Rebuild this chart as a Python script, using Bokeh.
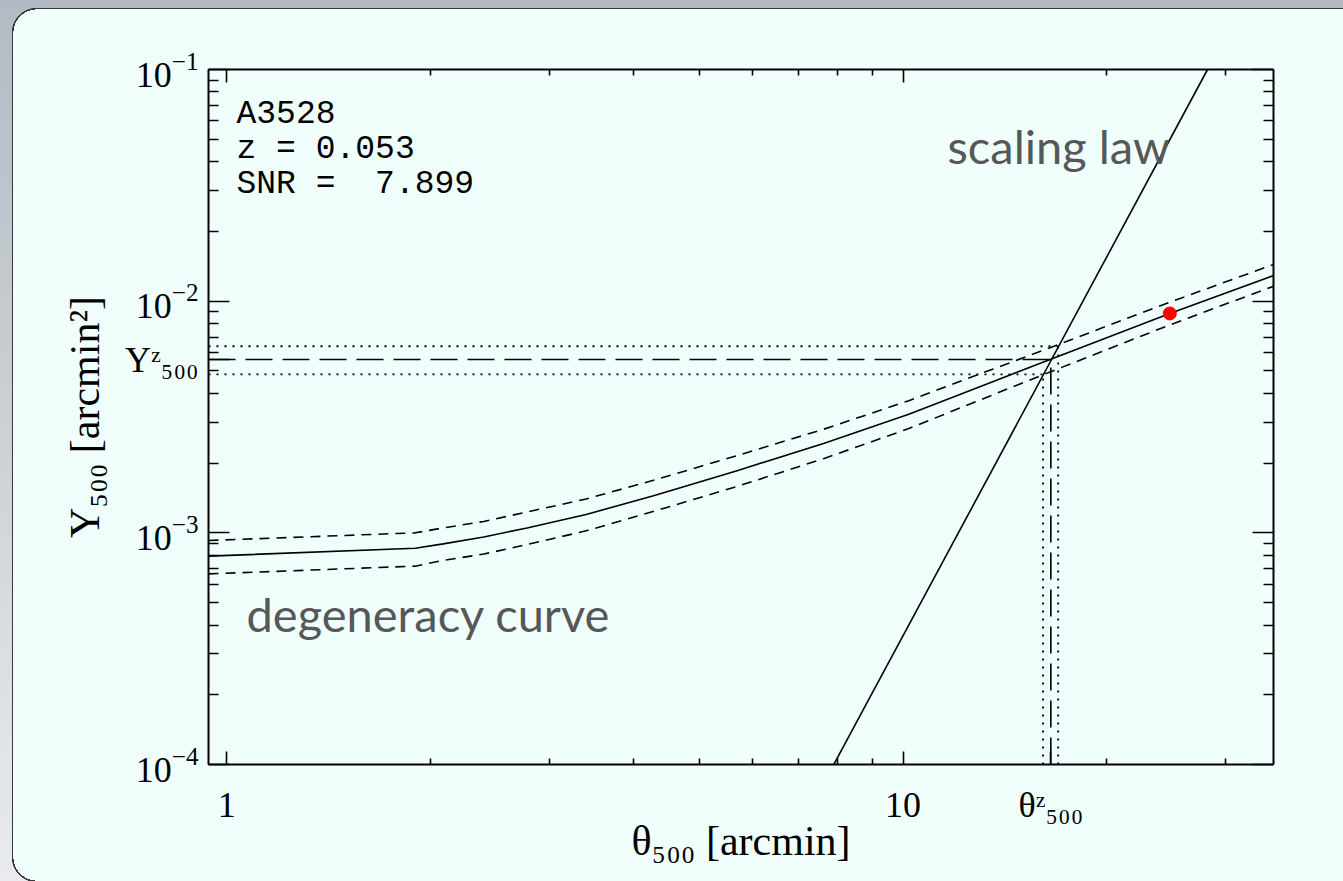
import math
from bokeh.plotting import figure
from bokeh.models import (LogAxis, FixedTicker, BasicTickFormatter, LogTickFormatter,
                          Label, Range1d)
from bokeh.embed import file_html
from bokeh.resources import INLINE

W, H = 1343, 881

# ---------------- data ----------------
theta500 = [0.94, 1.9, 2.09, 2.4, 2.78, 3.4, 4.29, 5.7, 7.63, 10.2, 13.6, 16.5, 24.8, 35.3]
Y_degeneracy = [7.93e-4, 8.58e-4, 8.96e-4, 9.60e-4, 1.05e-3, 1.20e-3, 1.45e-3, 1.86e-3,
                2.43e-3, 3.25e-3, 4.50e-3, 5.60e-3, 8.85e-3, 1.29e-2]
Y_degeneracy_hi = [9.27e-4, 1.00e-3, 1.05e-3, 1.12e-3, 1.23e-3, 1.40e-3, 1.69e-3, 2.16e-3,
                   2.80e-3, 3.72e-3, 5.10e-3, 6.30e-3, 9.90e-3, 1.44e-2]
Y_degeneracy_lo = [6.65e-4, 7.18e-4, 7.60e-4, 8.10e-4, 8.90e-4, 1.02e-3, 1.24e-3, 1.59e-3,
                   2.09e-3, 2.82e-3, 3.95e-3, 4.95e-3, 7.90e-3, 1.16e-2]

theta_scaling = [7.9, 28.2]
Y_scaling = [1e-4, 1e-1]

theta_z = [16.11, 16.54, 16.96]      # lower, central, upper
Y_z = [4.83e-3, 5.60e-3, 6.39e-3]    # lower, central, upper

theta_point = [24.8]
Y_point = [8.85e-3]

x_major_ticks = [1, 10]
x_minor_ticks = [2, 3, 4, 5, 6, 7, 8, 9, 20, 30]
y_major_ticks = [1e-4, 1e-3, 1e-2, 1e-1]
y_minor_ticks = [m * 10.0 ** e for e in (-4, -3, -2) for m in range(2, 10)]

info_lines = ["A3528", "z = 0.053", "SNR = \u00a07.899"]
x_title = "\u03b8\u2085\u2080\u2080 [arcmin]"
y_title = "Y\u2085\u2080\u2080 [arcmin\u00b2]"
theta_z_label = "\u03b8\u1dbb\u2085\u2080\u2080"
Y_z_label = "Y\u1dbb\u2085\u2080\u2080"

X_MIN, X_MAX = 0.94, 35.3
Y_MIN, Y_MAX = 1e-4, 1e-1

SERIF = "Liberation Serif"
MONO = "Liberation Mono"
PANEL = "#F0FFFC"
EDGE = "#3a3a3a"

# frame placement on the page (pixels)
FL, FR, FT, FB = 208, 1273, 69, 764

# ---------------- figure ----------------
p = figure(width=W, height=H, x_axis_type="log", y_axis_type="log",
           x_range=Range1d(X_MIN, X_MAX), y_range=Range1d(Y_MIN, Y_MAX),
           output_backend="svg", toolbar_location=None,
           min_border_left=FL, min_border_right=W - FR,
           min_border_top=FT, min_border_bottom=H - FB)

# page decoration: gray backdrop with a rounded light panel (CSS background layers)
layers = [
    (f"radial-gradient(circle at 37px 33px, {PANEL} 23.6px, {EDGE} 23.6px, {EDGE} 25px, rgba(0,0,0,0) 25.5px)",
     "0px 0px", "37px 33px"),
    (f"radial-gradient(circle at 37px 0px, {PANEL} 23.6px, {EDGE} 23.6px, {EDGE} 25px, rgba(0,0,0,0) 25.5px)",
     "0px 857px", "37px 24px"),
    (f"linear-gradient({EDGE}, {EDGE})", "12px 33px", "1.4px 824px"),
    (f"linear-gradient({EDGE}, {EDGE})", "37px 8px", "100% 1.4px"),
    (f"linear-gradient({PANEL}, {PANEL})", "13px 33px", "100% 824px"),
    (f"linear-gradient({PANEL}, {PANEL})", "37px 9px", "100% 24px"),
    (f"linear-gradient({PANEL}, {PANEL})", "37px 857px", "100% 24px"),
    ("linear-gradient(180deg, #B3BAC3 0%, #CDD1D7 50%, #E9EBEE 100%)", "0px 0px", "100% 100%"),
]
p.styles = {
    "background-image": ", ".join(l[0] for l in layers),
    "background-position": ", ".join(l[1] for l in layers),
    "background-size": ", ".join(l[2] for l in layers),
    "background-repeat": "no-repeat",
}
p.border_fill_color = None
p.background_fill_color = PANEL
p.outline_line_color = None
p.xgrid.visible = False
p.ygrid.visible = False


def sx(xpix):
    # screen units: relative to the frame's left edge
    return xpix - FL


def sy(ytop):
    # screen units: measured upwards from the frame's bottom edge
    return FB - ytop


# ---------------- axes ----------------
def style_axis(ax, major, minor, show_labels, standoff=10):
    ax.major_tick_in = major
    ax.major_tick_out = 0
    ax.minor_tick_in = minor
    ax.minor_tick_out = 0
    ax.axis_line_width = 2
    ax.axis_line_color = "black"
    ax.major_tick_line_width = 1.6
    ax.minor_tick_line_width = 1.6
    ax.major_tick_line_color = "black"
    ax.minor_tick_line_color = "black"
    ax.major_label_text_font = SERIF
    ax.major_label_standoff = standoff
    if show_labels:
        ax.major_label_text_font_size = "36px"
        ax.major_label_text_color = "black"
    else:
        ax.major_label_text_font_size = "10px"
        ax.major_label_text_color = None


# bottom axis: decades plus the theta500^z marker
xb = p.xaxis[0]
xb.ticker = FixedTicker(ticks=x_major_ticks + [theta_z[1]], minor_ticks=x_minor_ticks)
xb.formatter = BasicTickFormatter()
xb.major_label_overrides = {theta_z[1]: theta_z_label}
style_axis(xb, 13, 6, True, standoff=20)
xb.axis_label = x_title
xb.axis_label_text_font = SERIF
xb.axis_label_text_font_size = "42px"
xb.axis_label_text_font_style = "normal"
xb.axis_label_text_color = "black"
xb.axis_label_standoff = -10

# left axis: decades plus the Y500^z marker
yl = p.yaxis[0]
yl.ticker = FixedTicker(ticks=y_major_ticks + [Y_z[1]], minor_ticks=y_minor_ticks)
yl.formatter = LogTickFormatter()
yl.major_label_overrides = {Y_z[1]: Y_z_label}
style_axis(yl, 21, 10, True, standoff=10)
yl.axis_label = y_title
yl.axis_label_text_font = SERIF
yl.axis_label_text_font_size = "42px"
yl.axis_label_text_font_style = "normal"
yl.axis_label_text_color = "black"
yl.axis_label_standoff = 14

xa = LogAxis(ticker=FixedTicker(ticks=x_major_ticks, minor_ticks=x_minor_ticks),
             formatter=BasicTickFormatter())
style_axis(xa, 13, 6, False)
p.add_layout(xa, "above")

yr = LogAxis(ticker=FixedTicker(ticks=y_major_ticks, minor_ticks=y_minor_ticks),
             formatter=BasicTickFormatter())
style_axis(yr, 21, 10, False)
p.add_layout(yr, "right")

# ---------------- data lines ----------------
p.line(theta500, Y_degeneracy, line_color="black", line_width=1.6)
p.line(theta500, Y_degeneracy_hi, line_color="black", line_width=1.6, line_dash="10 7")
p.line(theta500, Y_degeneracy_lo, line_color="black", line_width=1.6, line_dash="10 7")
p.line(theta_scaling, Y_scaling, line_color="black", line_width=1.6)

# horizontal guides at Y500^z
p.line([X_MIN, theta_z[1]], [Y_z[1], Y_z[1]], line_color="black", line_width=1.6, line_dash="27 10")
p.line([X_MIN, theta_z[0]], [Y_z[0], Y_z[0]], line_color="black", line_width=1.8, line_dash="2 6")
p.line([X_MIN, theta_z[2]], [Y_z[2], Y_z[2]], line_color="black", line_width=1.8, line_dash="2 6")
# vertical guides at theta500^z
p.line([theta_z[1], theta_z[1]], [Y_MIN, Y_z[1]], line_color="black", line_width=1.6, line_dash="27 10")
p.line([theta_z[0], theta_z[0]], [Y_MIN, Y_z[0]], line_color="black", line_width=1.8, line_dash="2 6")
p.line([theta_z[2], theta_z[2]], [Y_MIN, Y_z[2]], line_color="black", line_width=1.8, line_dash="2 6")

p.scatter(theta_point, Y_point, size=13, fill_color="red", line_color="red")


# ---------------- texts inside the frame ----------------
def lab(text, xpix, ytop, font, size, style="normal", color="black"):
    p.add_layout(Label(x=sx(xpix), y=sy(ytop), x_units="screen", y_units="screen", text=text,
                       text_font=font, text_font_size=size, text_font_style=style,
                       text_color=color, text_align="left", text_baseline="alphabetic"))


for i, line in enumerate(info_lines):
    lab(line, 236, 114 + 35 * i, MONO, "33px")

lab("scaling law", 947, 145, "Lato", "47px", color="#575757")
lab("degeneracy curve", 246, 613, "Lato", "47px", color="#575757")

open("out.html", "w").write(file_html(p, INLINE))
